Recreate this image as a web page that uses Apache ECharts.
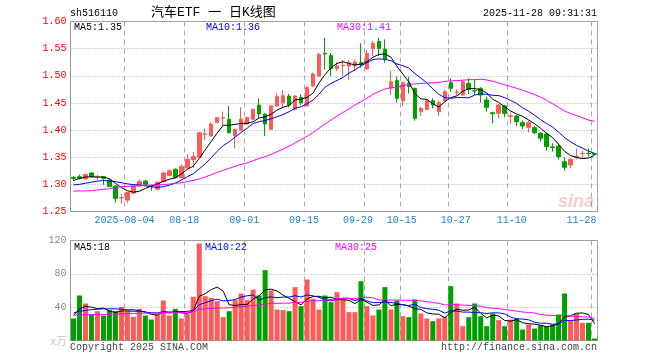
<!DOCTYPE html>
<html><head><meta charset="utf-8">
<script src="https://cdn.jsdelivr.net/npm/echarts@6/dist/echarts.min.js"></script>
<style>html,body{margin:0;padding:0;background:#fff}#c{width:660px;height:360px}</style>
</head><body><div id="c"></div>
<script>
const dates = [
'2025-07-22','2025-07-23','2025-07-24','2025-07-25','2025-07-28','2025-07-29','2025-07-30','2025-07-31',
'2025-08-01','2025-08-04','2025-08-05','2025-08-06','2025-08-07','2025-08-08','2025-08-11','2025-08-12','2025-08-13','2025-08-14','2025-08-15',
'2025-08-18','2025-08-19','2025-08-20','2025-08-21','2025-08-22','2025-08-25','2025-08-26','2025-08-27','2025-08-28','2025-08-29',
'2025-09-01','2025-09-02','2025-09-03','2025-09-04','2025-09-05','2025-09-08','2025-09-09','2025-09-10','2025-09-11','2025-09-12',
'2025-09-15','2025-09-16','2025-09-17','2025-09-18','2025-09-19','2025-09-22','2025-09-23','2025-09-24','2025-09-25','2025-09-26',
'2025-09-29','2025-09-30','2025-10-09','2025-10-10','2025-10-13','2025-10-14','2025-10-15','2025-10-16','2025-10-17','2025-10-20',
'2025-10-21','2025-10-22','2025-10-23','2025-10-24','2025-10-27','2025-10-28','2025-10-29','2025-10-30','2025-10-31',
'2025-11-03','2025-11-04','2025-11-05','2025-11-06','2025-11-07','2025-11-10','2025-11-11','2025-11-12','2025-11-13','2025-11-14',
'2025-11-17','2025-11-18','2025-11-19','2025-11-20','2025-11-21','2025-11-24','2025-11-25','2025-11-26','2025-11-27','2025-11-28'];

const openP = [
1.313,1.314,1.310,1.321,1.313,1.314,1.308,1.297,1.275,1.271,
1.284,1.297,1.306,1.298,1.291,1.305,1.316,1.328,1.312,1.330,
1.345,1.350,1.392,1.389,1.414,1.422,1.420,1.389,1.400,1.411,
1.420,1.446,1.429,1.4014,1.4443,1.4504,1.4627,1.4382,1.4603,1.4443,
1.4812,1.4995,1.541,1.5375,1.513,1.5185,1.5179,1.5185,1.524,1.513,
1.5499,1.5634,1.5487,1.4769,1.491,1.4541,1.4861,1.4769,1.4339,1.4382,
1.4541,1.4339,1.4541,1.4873,1.4695,1.4646,1.4861,1.473,1.4769,1.4554,
1.432,1.4308,1.4443,1.4255,1.4259,1.4136,1.405,1.4044,1.394,1.3928,
1.369,1.3705,1.3418,1.3357,1.3505,1.3565,1.3572,1.357];
const closeP = [
1.311,1.311,1.318,1.314,1.3135,1.311,1.296,1.274,1.2755,1.285,
1.297,1.305,1.300,1.297,1.304,1.321,1.325,1.313,1.333,1.346,
1.351,1.395,1.393,1.411,1.423,1.4225,1.395,1.401,1.420,1.423,
1.438,1.4296,1.4112,1.4443,1.4615,1.4633,1.4462,1.4627,1.4504,1.4781,
1.5033,1.5394,1.540,1.513,1.5179,1.5192,1.524,1.5253,1.5204,1.5413,
1.5597,1.5505,1.5302,1.4891,1.4585,1.4873,1.4799,1.4216,1.440,1.4541,
1.4462,1.4505,1.4707,1.4769,1.470,1.4891,1.475,1.472,1.4646,1.4419,
1.430,1.4462,1.4308,1.4262,1.4155,1.4075,1.4136,1.3952,1.3848,1.3694,
1.368,1.351,1.3314,1.3461,1.3512,1.3572,1.3565,1.355];
const lowP = [
1.306,1.309,1.309,1.313,1.308,1.299,1.295,1.266,1.264,1.266,
1.282,1.296,1.298,1.288,1.289,1.304,1.315,1.311,1.311,1.329,
1.330,1.349,1.381,1.388,1.413,1.406,1.394,1.366,1.398,1.410,
1.418,1.4216,1.389,1.400,1.443,1.4419,1.4419,1.436,1.4462,1.443,
1.479,1.498,1.5118,1.4995,1.5087,1.4995,1.4922,1.5087,1.5148,1.511,
1.5363,1.5363,1.524,1.4646,1.4505,1.4443,1.4677,1.4173,1.4259,1.436,
1.440,1.4259,1.452,1.4707,1.464,1.463,1.4665,1.4646,1.4505,1.4339,
1.4124,1.4216,1.4235,1.4112,1.4075,1.4014,1.3952,1.3928,1.3787,1.3621,
1.3603,1.3461,1.3252,1.3295,1.3461,1.3479,1.351,1.354];
const highP = [
1.315,1.318,1.320,1.322,1.317,1.315,1.309,1.297,1.282,1.285,
1.298,1.309,1.308,1.299,1.305,1.322,1.328,1.329,1.337,1.356,
1.360,1.397,1.403,1.415,1.424,1.434,1.444,1.403,1.442,1.425,
1.440,1.4585,1.431,1.446,1.4677,1.4738,1.4664,1.464,1.4658,1.4812,
1.506,1.5424,1.5701,1.5424,1.5253,1.529,1.529,1.5302,1.5597,1.5474,
1.564,1.5701,1.567,1.5094,1.4984,1.489,1.4984,1.478,1.443,1.456,
1.4585,1.4541,1.4738,1.4953,1.475,1.492,1.4953,1.4922,1.4787,1.4615,
1.4339,1.448,1.4462,1.432,1.4278,1.4173,1.4173,1.4075,1.3965,1.3952,
1.3756,1.3756,1.3498,1.3479,1.3664,1.3621,1.3664,1.358];

const ma5 = [
1.307,1.311,1.3135,1.314,1.3135,1.3135,1.3105,1.3017,1.294,1.2883,
1.2855,1.2873,1.2925,1.2968,1.3006,1.3054,1.3094,1.312,1.3192,1.3276,
1.3336,1.3476,1.3636,1.3792,1.3946,1.4089,1.4089,1.4105,1.4123,1.4123,
1.4154,1.4223,1.4244,1.4292,1.4369,1.442,1.4453,1.4556,1.4568,1.4601,
1.4681,1.4868,1.5022,1.5148,1.5227,1.5259,1.5228,1.5199,1.5214,1.526,
1.5341,1.5394,1.5404,1.5342,1.5176,1.5031,1.489,1.4673,1.4575,1.4566,
1.4484,1.4425,1.4523,1.4597,1.4629,1.4714,1.4763,1.4766,1.4741,1.4685,
1.4567,1.4509,1.4427,1.435,1.4297,1.4252,1.4187,1.4116,1.4033,1.3941,
1.3862,1.3737,1.3609,1.3532,1.3495,1.3474,1.3485,1.3532];
const ma10 = [
1.299,1.300,1.302,1.304,1.306,1.307,1.306,1.305,1.303,1.3009,
1.2995,1.2989,1.2971,1.2954,1.2945,1.2955,1.2984,1.3023,1.308,1.3141,
1.3195,1.3285,1.3378,1.3492,1.3611,1.3713,1.3783,1.3871,1.3958,1.4035,
1.4122,1.4156,1.4175,1.4208,1.4246,1.4287,1.4338,1.44,1.443,1.4485,
1.4551,1.4661,1.4789,1.4858,1.4914,1.497,1.5048,1.5111,1.5181,1.5244,
1.53,1.5311,1.5302,1.5278,1.5218,1.5186,1.5142,1.5039,1.4959,1.4871,
1.4758,1.4658,1.4598,1.4586,1.4598,1.4599,1.4594,1.4645,1.4669,1.4657,
1.4641,1.4636,1.4597,1.4546,1.4491,1.441,1.4348,1.4272,1.4192,1.4119,
1.4057,1.3962,1.3863,1.3783,1.3718,1.3668,1.3611,1.3571];
const ma30 = [
1.2878,1.2878,1.2878,1.2884,1.2896,1.2908,1.292,1.2939,1.2957,1.2963,
1.297,1.2976,1.2982,1.2988,1.2988,1.2994,1.3006,1.3019,1.3031,1.305,
1.3074,1.3098,1.3135,1.3178,1.3221,1.3258,1.3295,1.3332,1.3369,1.3395,
1.3437,1.3477,1.3508,1.3551,1.3601,1.3651,1.3701,1.3764,1.3823,1.3887,
1.3956,1.4034,1.4114,1.4186,1.4257,1.4323,1.439,1.446,1.4523,1.4588,
1.4657,1.4709,1.4755,1.4781,1.4793,1.4814,1.4843,1.485,1.4856,1.4867,
1.4869,1.4876,1.4896,1.4907,1.491,1.4919,1.4928,1.4931,1.4936,1.4924,
1.4899,1.4868,1.4832,1.4803,1.4769,1.4732,1.4695,1.4652,1.4606,1.4549,
1.4485,1.4419,1.4352,1.4305,1.4269,1.4226,1.4184,1.4162];

const volume = [
26.4,54,44.4,31.2,35.2,30,36.4,35.2,40.4,35.2,
28.4,38,30,25.2,31.2,48,30,38,26.4,32.4,
52.4,116.4,53.2,51.2,47.2,28,35.2,48.4,56.4,48.4,
61.2,54,84.4,60,37.2,36.4,35.2,64,41.2,73.2,
50,37.2,54,46,58,49.2,34,34,71.2,41.2,
30,37.2,64,37.2,48,29.2,28,49.2,32.4,26.4,
23.2,26.4,28.4,65.2,44.4,17.2,28,44.4,29.2,17.2,
32.4,24.4,17.2,25.2,26,13.2,19.2,14.4,18.4,17.2,
19.2,31.2,56.4,24.4,32.4,21.2,21.2,2.4];
const volMa5 = [
30,38,41,40,38.24,38.96,35.44,33.6,35.44,35.44,
35.12,35.44,34.4,31.36,30.56,34.48,32.88,34.48,34.72,34.96,
35.84,53.12,56.16,61.12,64.08,59.2,42.96,42,43.04,43.28,
49.92,53.68,60.88,61.6,59.36,54.4,50.64,46.56,42.8,50,
52.72,53.12,51.12,52.08,49.04,48.88,48.24,44.24,49.28,45.92,
42.08,42.72,48.72,41.92,43.28,43.12,41.28,38.32,37.36,33.04,
31.84,31.52,27.36,33.92,37.52,36.32,36.64,39.84,32.64,27.2,
30.24,29.52,24.08,23.28,25.04,21.2,20.16,19.6,18.24,16.48,
17.68,20.08,28.48,29.68,32.72,33.12,31.12,20.32];
const volMa10 = [
33,35,36,37,37.5,38,38,38,37.5,36.84,
37.04,35.44,34,33.4,33,34.8,34.16,34.44,33.04,32.76,
35.16,43,45.32,47.92,49.52,47.52,48.04,49.08,52.08,53.68,
54.56,48.32,51.44,52.32,51.32,52.16,52.16,53.72,52.2,54.68,
53.56,51.88,48.84,47.44,49.52,50.8,50.68,47.68,50.68,47.48,
45.48,45.48,46.48,45.6,44.6,42.6,42,43.52,39.64,38.16,
37.48,36.4,32.84,35.64,35.28,34.08,34.08,33.6,33.28,32.36,
33.28,33.08,31.96,27.96,26.12,25.72,24.84,21.84,20.76,20.76,
19.44,20.12,24.04,23.96,24.6,25.4,25.6,24.4];
const volMa30 = [
30.4,30.6,30.8,31,31.2,31.4,31.6,31.8,32,32.2,
32.4,32.6,32.8,32.8,33,33.2,33.4,33.6,33.8,34,
34.6,37.5,38,38.6,39,39,39.2,39.8,40.5,41.09,
42.25,42.25,43.59,44.55,44.61,44.83,44.79,45.75,45.77,47.04,
47.76,47.73,48.53,49.23,50.12,50.16,50.29,50.16,51.65,51.95,
51.2,48.56,48.92,48.45,48.48,48.52,48.28,48.31,47.51,46.77,
45.51,44.59,42.72,42.89,43.13,42.49,42.25,41.6,41.2,39.33,
38.75,38.32,37.09,36.4,35.33,34.13,33.64,32.99,31.23,30.43,
30.07,29.87,29.61,29.19,28.67,28.4,28.17,26.61];

const dateTicks = ['2025-08-04','2025-08-18','2025-09-01','2025-09-15','2025-09-29','2025-10-15','2025-10-27','2025-11-10','2025-11-28'];
const dateTickText = ['2025-08-04','08-18','09-01','09-15','09-29','10-15','10-27','11-10','11-28'];

// ---- styling ----
const UP = '#ff5a5a', DOWN = '#00a000';
const MONO = '"Liberation Mono","DejaVu Sans Mono",monospace';
const labelShift = [-3,-3,-3,-3,-9,-1,5,1,-13];
const rich = {};
labelShift.forEach((s, k) => {
  rich['s' + k] = {color: '#1a86d0', fontFamily: MONO, fontSize: 10,
    padding: s < 0 ? [0, -2 * s, 0, 0] : [0, 0, 0, 2 * s]};
});
const tickShown = (i, v) => dateTicks.indexOf(v) >= 0;

const candleData = dates.map((d, i) => [openP[i], closeP[i], lowP[i], highP[i]]);

const G0 = {left: 70.5, top: 21.5, width: 527, height: 190};
const G1 = {left: 70.5, top: 240.5, width: 527, height: 100};

function xAx(gi, showLabel) {
  return {
    type: 'category', gridIndex: gi, data: dates, boundaryGap: true,
    axisLine: {show: true, lineStyle: {color: '#999', width: 1}},
    axisTick: {show: false},
    axisLabel: {show: showLabel, interval: tickShown, margin: 4,
      formatter: v => { const k = dateTicks.indexOf(v); return k < 0 ? '' : '{s' + k + '|' + dateTickText[k] + '}'; },
      rich: rich},
    splitLine: {show: true, interval: tickShown, lineStyle: {color: '#aaa', type: [5, 4], width: 1}}
  };
}
function lineS(data, color, xi, yi) {
  return {type: 'line', data: data, xAxisIndex: xi, yAxisIndex: yi, symbol: 'none', showSymbol: false,
    lineStyle: {color: color, width: 1}, itemStyle: {color: color}, silent: true, z: 3, animation: false};
}
function txt(x, y, text, color, font, align) {
  return {type: 'text', x: x, y: y, silent: true, z: 100,
    style: {text: text, fill: color, font: font || ('10px ' + MONO),
      textAlign: align || 'left', textVerticalAlign: 'middle', align: align || 'left', verticalAlign: 'middle'}};
}

const option = {
  animation: false,
  backgroundColor: '#fff',
  textStyle: {fontFamily: MONO},
  grid: [
    Object.assign({show: true, borderColor: '#999', borderWidth: 1, backgroundColor: 'transparent', containLabel: false, outerBoundsMode: 'none'}, G0),
    Object.assign({show: true, borderColor: '#999', borderWidth: 1, backgroundColor: 'transparent', containLabel: false, outerBoundsMode: 'none'}, G1)
  ],
  xAxis: [xAx(0, true), xAx(1, false)],
  yAxis: [
    {type: 'value', gridIndex: 0, min: 1.25, max: 1.60, interval: 0.05, scale: true,
      axisLine: {show: true, lineStyle: {color: '#999'}}, axisTick: {show: false},
      axisLabel: {color: '#ff0000', fontFamily: MONO, fontSize: 10, margin: 4, formatter: v => v.toFixed(2)},
      splitLine: {show: true, lineStyle: {color: '#aaa', type: [1, 2]}}},
    {type: 'value', gridIndex: 1, min: 0, max: 120, interval: 40,
      axisLine: {show: true, lineStyle: {color: '#999'}}, axisTick: {show: false},
      axisLabel: {color: '#888', fontFamily: MONO, fontSize: 10, margin: 4, formatter: v => v === 0 ? '' : String(v)},
      splitLine: {show: true, lineStyle: {color: '#aaa', type: [1, 2]}}}
  ],
  series: [
    {type: 'candlestick', xAxisIndex: 0, yAxisIndex: 0, data: candleData, barWidth: 4, silent: true,
      itemStyle: {color: UP, color0: DOWN, borderColor: UP, borderColor0: DOWN, borderWidth: 1}, z: 2},
    lineS(ma5, '#000000', 0, 0),
    lineS(ma10, '#0000ff', 0, 0),
    lineS(ma30, '#ff00ff', 0, 0),
    {type: 'bar', xAxisIndex: 1, yAxisIndex: 1, barWidth: 5, silent: true, z: 2,
      data: volume.map((v, i) => ({value: v, itemStyle: {color: closeP[i] >= openP[i] ? UP : DOWN}}))},
    lineS(volMa5, '#000000', 1, 1),
    lineS(volMa10, '#0000ff', 1, 1),
    lineS(volMa30, '#ff00ff', 1, 1)
  ],
  graphic: [
    txt(70, 13, 'sh516110', '#000'),
    txt(151, 13, '汽车ETF 一 日K线图', '#000', '13px "Liberation Mono","Noto Sans CJK SC",sans-serif'),
    txt(597, 13, '2025-11-28 09:31:31', '#000', null, 'right'),
    txt(74, 27, 'MA5:1.35', '#000'),
    txt(206, 27, 'MA10:1.36', '#0000ff'),
    txt(337, 27, 'MA30:1.41', '#ff00ff'),
    txt(74, 247, 'MA5:18', '#000'),
    txt(205, 247, 'MA10:22', '#0000ff'),
    txt(335, 247, 'MA30:25', '#ff00ff'),
    txt(67, 341, 'x万', '#c8c8c8', '11px "Noto Sans CJK SC",sans-serif', 'right'),
    txt(70, 347, 'Copyright 2025 SINA.COM', '#444'),
    txt(597, 347, 'http://finance.sina.com.cn', '#444', null, 'right'),
    txt(594, 202, 'sina', 'rgba(230,70,70,0.28)', 'italic bold 18px "Liberation Sans",Arial,sans-serif', 'right')
  ]
};
const chart = echarts.init(document.getElementById('c'), null, {renderer: 'canvas', width: 660, height: 360});
chart.setOption(option);
</script>
</body></html>
